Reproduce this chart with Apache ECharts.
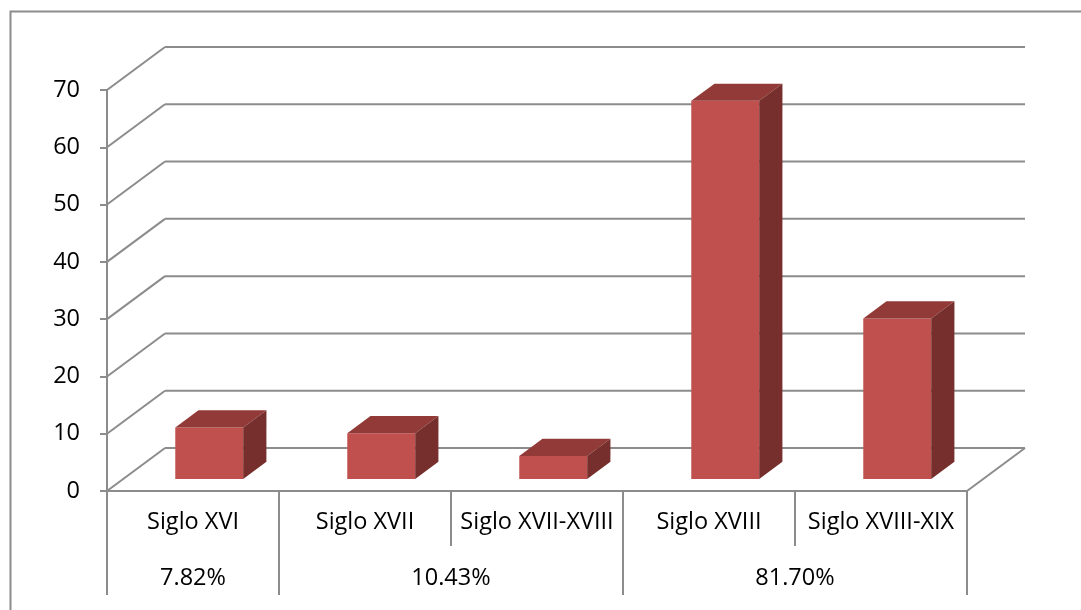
<!DOCTYPE html>
<html>
<head>
<meta charset="utf-8">
<script src="https://cdn.jsdelivr.net/npm/echarts@6/dist/echarts.min.js"></script>
<style>
html,body{margin:0;padding:0;background:#fff;}
#chart{width:1081px;height:610px;}
</style>
</head>
<body>
<div id="chart"></div>
<script>
const categories = ['Siglo XVI', 'Siglo XVII', 'Siglo XVII-XVIII', 'Siglo XVIII', 'Siglo XVIII-XIX'];
const values = [9, 8, 4, 66, 28];
const groupLabels = ['7.82%', '10.43%', '81.70%'];
const groupSizes = [1, 2, 2];
const yTicks = [0, 10, 20, 30, 40, 50, 60, 70];

// styling / geometry constants
const DX = 58, DY = -43;          // depth offset of back wall
const BAR_FRONT = 0.28, BAR_DEPTH = 0.40, BAR_W = 0.395;
const GRID_COLOR = '#8c8c8c';
const FONT = 'Open Sans';
const FS = 23.5;

const groupStarts = [];
groupSizes.reduce((acc, s) => { groupStarts.push(acc); return acc + s; }, 0);

const chart = echarts.init(document.getElementById('chart'));

function wallsItem(params, api) {
  const v = api.value(1);
  const p = api.coord([0, v]);
  const bw = api.size([1, 0])[0];
  const xl = p[0] - bw / 2;
  const xr = api.coord([categories.length - 1, v])[0] + bw / 2;
  const y = p[1];
  const style = { stroke: GRID_COLOR, lineWidth: 2 };
  const children = [
    { type: 'line', shape: { x1: xl, y1: y, x2: xl + DX, y2: y + DY }, style },
    { type: 'line', shape: { x1: xl + DX, y1: y + DY, x2: xr + DX, y2: y + DY }, style }
  ];
  if (v === 0) {
    children.push({ type: 'line', shape: { x1: xr, y1: y, x2: xr + DX, y2: y + DY }, style });
  }
  return { type: 'group', children };
}

function barItem(params, api) {
  const i = api.value(0), v = api.value(1);
  const base = api.coord([i, 0]);
  const top = api.coord([i, v]);
  const band = api.size([1, 0])[0];
  const w = band * BAR_W;
  const fx = DX * BAR_FRONT, fy = DY * BAR_FRONT;
  const ddx = DX * BAR_DEPTH, ddy = DY * BAR_DEPTH;
  const x = base[0] - w / 2 + fx;
  const ty = top[1] + fy, by = base[1] + fy;
  return {
    type: 'group',
    children: [
      { type: 'rect', shape: { x: x, y: ty, width: w, height: by - ty }, style: { fill: '#c0504d' } },
      { type: 'polygon', shape: { points: [[x, ty], [x + ddx, ty + ddy], [x + w + ddx, ty + ddy], [x + w, ty]] }, style: { fill: '#923a38' } },
      { type: 'polygon', shape: { points: [[x + w, ty], [x + w + ddx, ty + ddy], [x + w + ddx, by + ddy], [x + w, by]] }, style: { fill: '#772f2d' } }
    ]
  };
}

function tableItem(params, api) {
  const start = api.value(0);
  const idx = params.dataIndex;
  const size = groupSizes[idx];
  const p = api.coord([start, 0]);
  const band = api.size([1, 0])[0];
  const xl = p[0] - band / 2;
  const xr = xl + size * band;
  const y = p[1];
  const style = { stroke: GRID_COLOR, lineWidth: 2 };
  const children = [
    { type: 'line', shape: { x1: xl, y1: y, x2: xl, y2: y + 104 }, style },
    { type: 'line', shape: { x1: xr, y1: y, x2: xr, y2: y + 104 }, style },
    { type: 'text', style: { text: groupLabels[idx], x: (xl + xr) / 2, y: y + 87, align: 'center', verticalAlign: 'middle', fill: '#000', fontSize: FS, fontFamily: FONT } }
  ];
  return { type: 'group', children };
}

chart.setOption({
  backgroundColor: '#fff',
  animation: false,
  graphic: [
    { type: 'rect', left: 8, top: 9, shape: { width: 1100, height: 640 }, style: { fill: 'none', stroke: '#8c8c8c', lineWidth: 2 }, silent: true }
  ],
  grid: { left: 107, right: 114, top: 90, bottom: 119, containLabel: false },
  xAxis: {
    type: 'category',
    data: categories,
    axisLine: { show: true, lineStyle: { color: GRID_COLOR, width: 2 } },
    axisTick: { show: true, length: 55, lineStyle: { color: GRID_COLOR, width: 2 } },
    axisLabel: { margin: 19, color: '#000', fontSize: FS, fontFamily: FONT, interval: 0 },
    splitLine: { show: false }
  },
  yAxis: {
    type: 'value',
    min: 0, max: 70, interval: 10,
    axisLine: { show: true, lineStyle: { color: GRID_COLOR, width: 2 } },
    axisTick: { show: true, length: 7, lineStyle: { color: GRID_COLOR, width: 2 } },
    axisLabel: { margin: 27, color: '#000', fontSize: FS, fontFamily: FONT },
    splitLine: { show: false }
  },
  series: [
    { type: 'custom', renderItem: wallsItem, data: yTicks.map(v => [0, v]), encode: { x: 0, y: 1 }, silent: true, z: 1 },
    { type: 'custom', renderItem: tableItem, data: groupStarts.map(s => [s, 0]), encode: { x: 0, y: 1 }, silent: true, z: 1 },
    { type: 'custom', renderItem: barItem, data: values.map((v, i) => [i, v]), encode: { x: 0, y: 1 }, z: 3 }
  ]
});
</script>
</body>
</html>
